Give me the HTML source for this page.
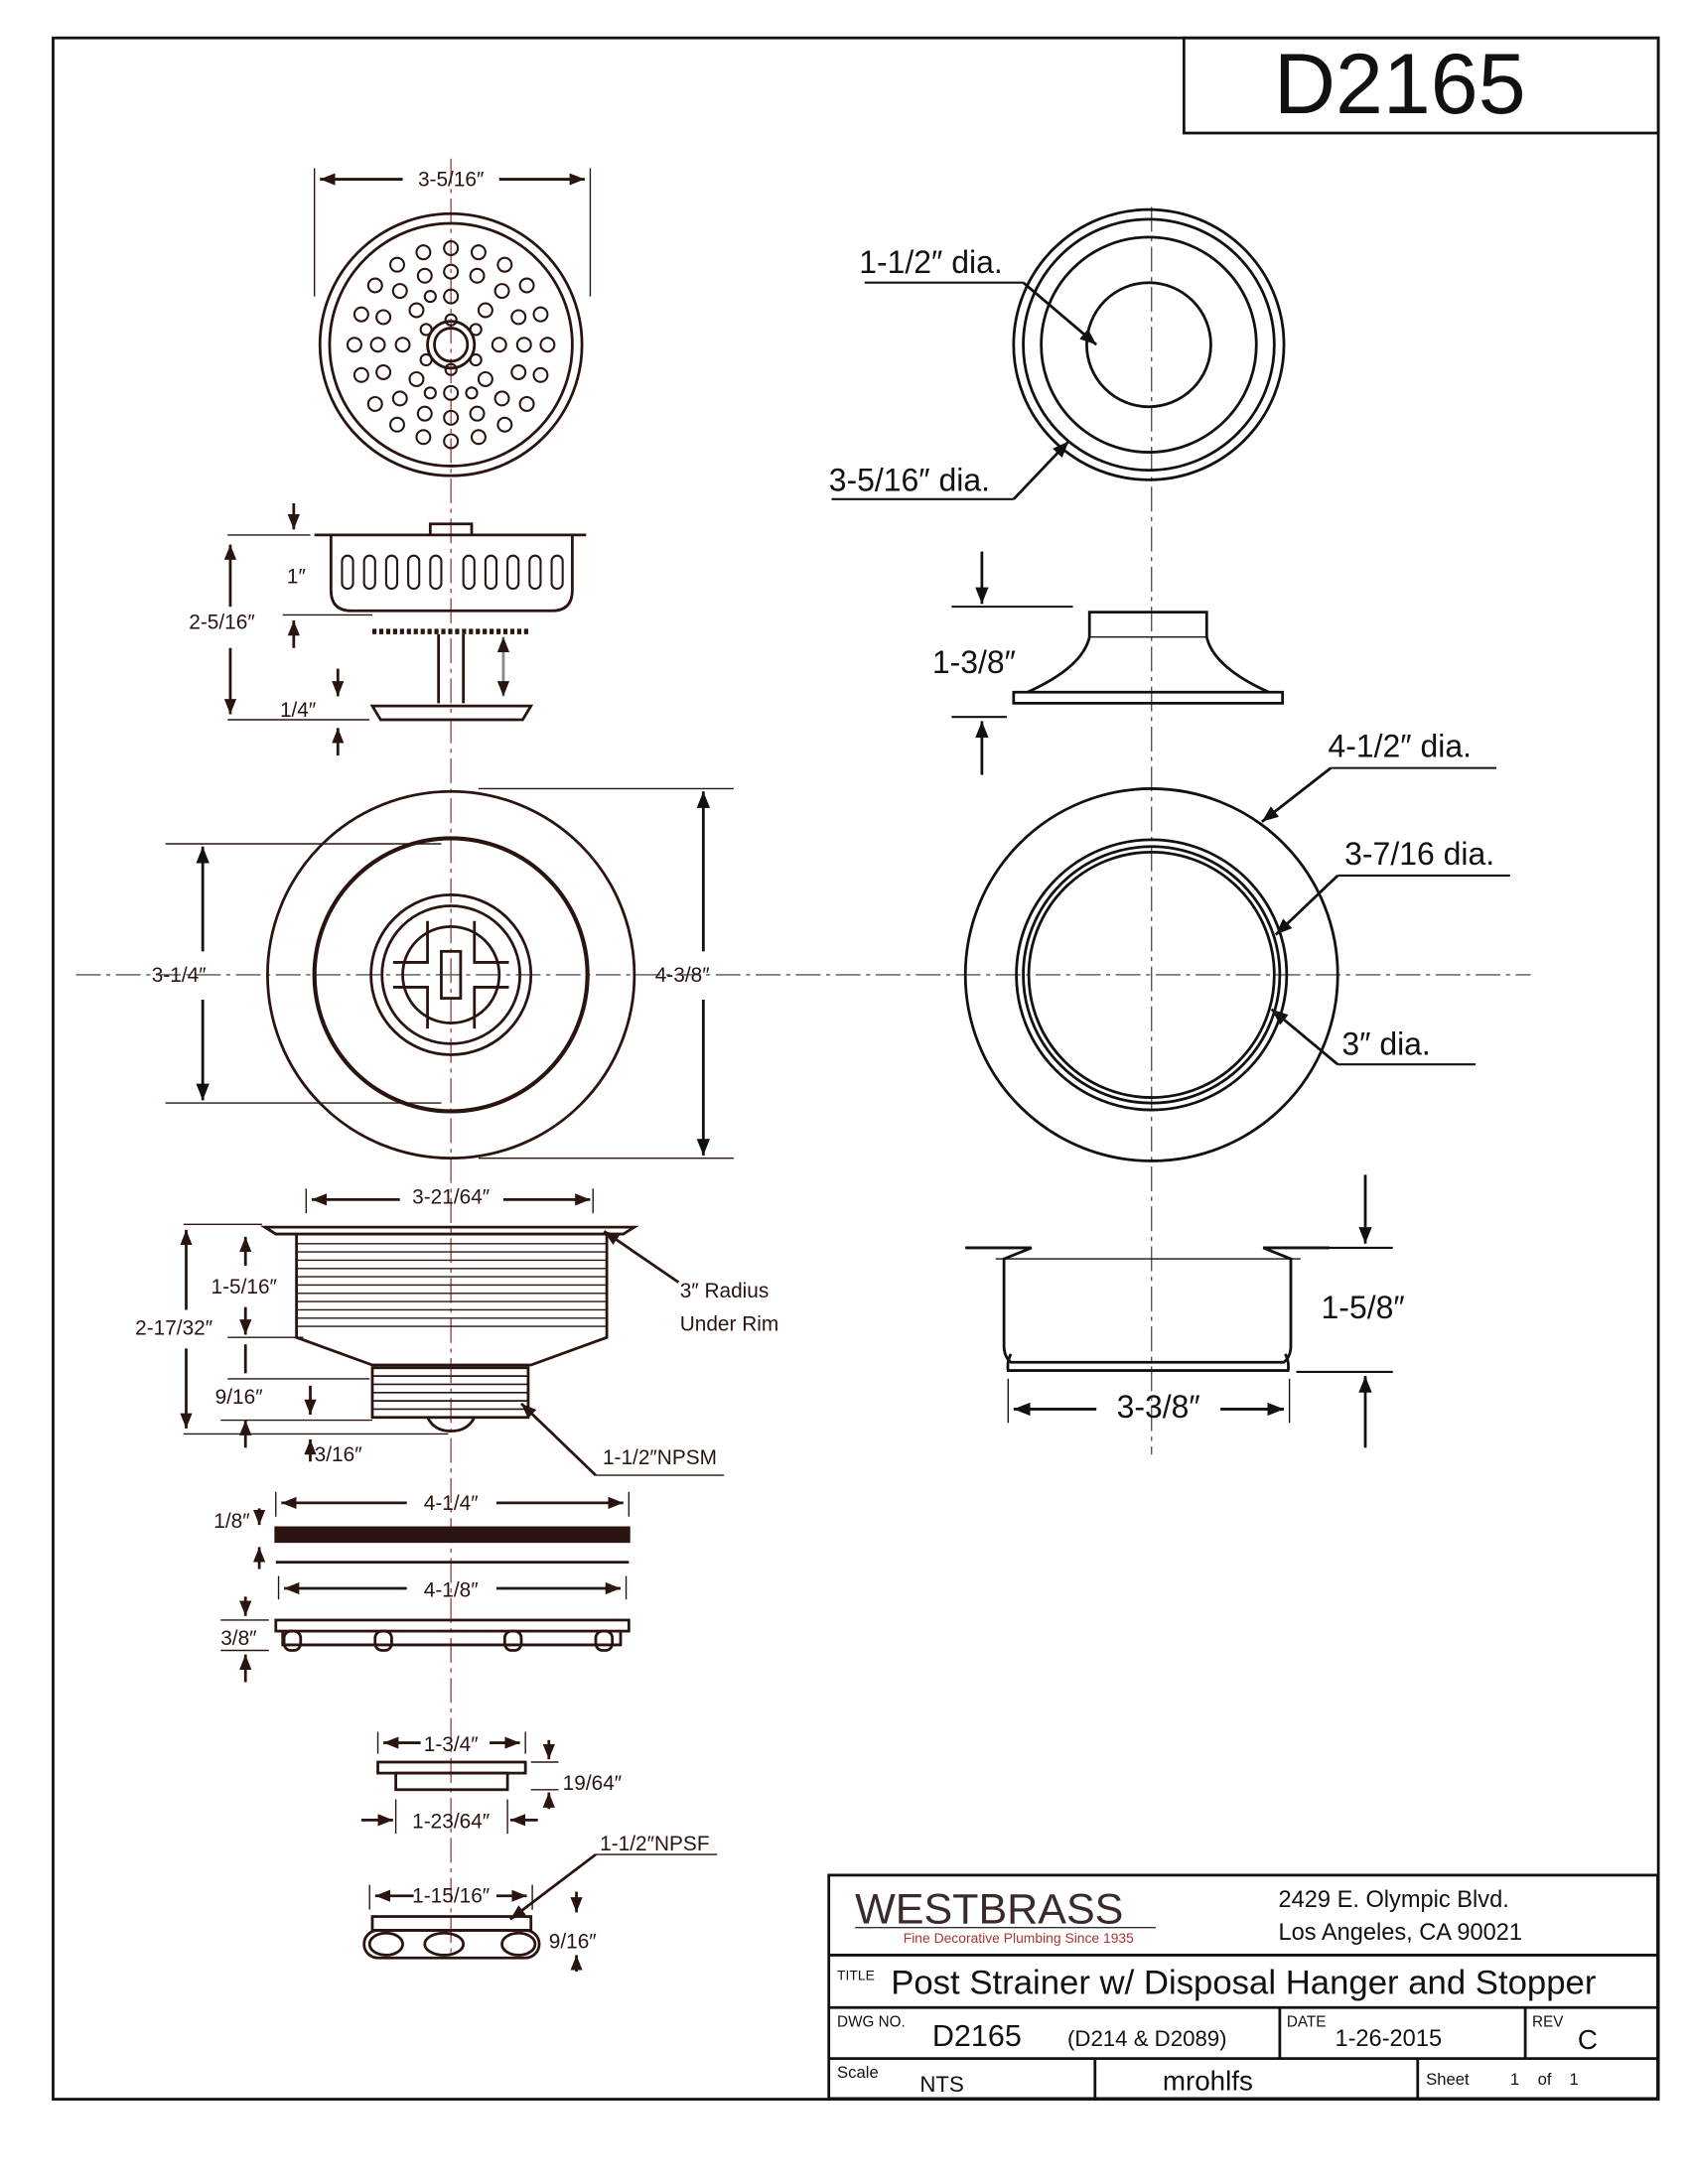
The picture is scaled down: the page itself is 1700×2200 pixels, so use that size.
<!DOCTYPE html>
<html><head><meta charset="utf-8"><style>
html,body{margin:0;padding:0;background:#fff}
svg{display:block}
text{font-family:"Liberation Sans",sans-serif}
</style></head><body>
<svg width="1700" height="2200" viewBox="0 0 1224 1584" xmlns="http://www.w3.org/2000/svg">
<defs>
<marker id="a" viewBox="0 0 10 10" refX="10" refY="5" markerWidth="6" markerHeight="6" orient="auto-start-reverse"><path d="M0,1 L10,5 L0,9 z" fill="#111"/></marker>
<marker id="r" viewBox="0 0 10 10" refX="10" refY="5" markerWidth="5.5" markerHeight="5.5" orient="auto-start-reverse"><path d="M0,1 L10,5 L0,9 z" fill="#2a1410"/></marker>
</defs>
<rect width="1224" height="1584" fill="#fff"/>
<rect x="38.5" y="27.5" width="1164" height="1495" fill="none" stroke="#111" stroke-width="2"/>
<rect x="858.5" y="27.5" width="344" height="69" fill="none" stroke="#111" stroke-width="2"/>
<text x="1015" y="82" font-size="62" text-anchor="middle" fill="#111">D2165</text>

<g stroke="#a44" stroke-width="1" stroke-dasharray="18,4,3,4" fill="none">
<line x1="327" y1="115" x2="327" y2="1420"/>
<line x1="55" y1="707" x2="1110" y2="707" stroke="#555"/>
</g>
<line x1="835" y1="150" x2="835" y2="1055" stroke="#555" stroke-dasharray="18,4,3,4"/>

<g fill="none" stroke="#2a1410" stroke-width="2">
<line x1="228" y1="122" x2="228" y2="215" stroke-width="1"/><line x1="428" y1="122" x2="428" y2="215" stroke-width="1"/>
<line x1="232" y1="130" x2="292" y2="130" marker-start="url(#r)"/><line x1="362" y1="130" x2="424" y2="130" marker-end="url(#r)"/>
<circle cx="327" cy="250" r="95"/><circle cx="327" cy="250" r="88"/>
<circle cx="327" cy="250" r="17"/><circle cx="327" cy="250" r="12"/>
<g stroke-width="1.5">
<circle cx="327" cy="215" r="5"/><circle cx="327" cy="285" r="5"/><circle cx="292" cy="250" r="5"/><circle cx="362" cy="250" r="5"/>
<circle cx="302" cy="225" r="5"/><circle cx="352" cy="225" r="5"/><circle cx="302" cy="275" r="5"/><circle cx="352" cy="275" r="5"/>
<circle cx="327" cy="197" r="5"/><circle cx="327" cy="303" r="5"/><circle cx="274" cy="250" r="5"/><circle cx="380" cy="250" r="5"/>
<circle cx="308" cy="200" r="5"/><circle cx="346" cy="200" r="5"/><circle cx="308" cy="300" r="5"/><circle cx="346" cy="300" r="5"/>
<circle cx="290" cy="211" r="5"/><circle cx="364" cy="211" r="5"/><circle cx="290" cy="289" r="5"/><circle cx="364" cy="289" r="5"/>
<circle cx="278" cy="230" r="5"/><circle cx="376" cy="230" r="5"/><circle cx="278" cy="270" r="5"/><circle cx="376" cy="270" r="5"/>
<circle cx="327" cy="180" r="5"/><circle cx="327" cy="320" r="5"/><circle cx="257" cy="250" r="5"/><circle cx="397" cy="250" r="5"/>
<circle cx="307" cy="183" r="5"/><circle cx="347" cy="183" r="5"/><circle cx="307" cy="317" r="5"/><circle cx="347" cy="317" r="5"/>
<circle cx="288" cy="192" r="5"/><circle cx="366" cy="192" r="5"/><circle cx="288" cy="308" r="5"/><circle cx="366" cy="308" r="5"/>
<circle cx="272" cy="207" r="5"/><circle cx="382" cy="207" r="5"/><circle cx="272" cy="293" r="5"/><circle cx="382" cy="293" r="5"/>
<circle cx="262" cy="228" r="5"/><circle cx="392" cy="228" r="5"/><circle cx="262" cy="272" r="5"/><circle cx="392" cy="272" r="5"/>
<circle cx="309" cy="239" r="4"/><circle cx="345" cy="239" r="4"/><circle cx="309" cy="261" r="4"/><circle cx="345" cy="261" r="4"/>
<circle cx="327" cy="232" r="4"/><circle cx="327" cy="268" r="4"/><circle cx="312" cy="215" r="4"/><circle cx="342" cy="285" r="4"/><circle cx="312" cy="285" r="4"/>
</g>

<line x1="228" y1="388" x2="425" y2="388"/>
<path d="M312,388 v-8 h30 v8"/>
<path d="M240,388 v40 q0,15 15,15 h145 q15,0 15,-15 v-40"/>
<g stroke-width="1.5">
<rect x="248" y="403" width="8" height="24" rx="4"/><rect x="264" y="403" width="8" height="24" rx="4"/><rect x="280" y="403" width="8" height="24" rx="4"/><rect x="296" y="403" width="8" height="24" rx="4"/><rect x="312" y="403" width="8" height="24" rx="4"/><rect x="336" y="403" width="8" height="24" rx="4"/><rect x="352" y="403" width="8" height="24" rx="4"/><rect x="368" y="403" width="8" height="24" rx="4"/><rect x="384" y="403" width="8" height="24" rx="4"/><rect x="400" y="403" width="8" height="24" rx="4"/>
</g>
<line x1="270" y1="458" x2="385" y2="458" stroke-dasharray="3,2" stroke-width="4"/>
<line x1="318" y1="460" x2="318" y2="510"/><line x1="336" y1="460" x2="336" y2="510"/>
<path d="M270,512 h115 l-6,10 h-103 z"/>
<line x1="365" y1="462" x2="365" y2="505" stroke="#888" marker-start="url(#r)" marker-end="url(#r)"/>
<line x1="165" y1="388" x2="225" y2="388" stroke-width="1"/><line x1="165" y1="522" x2="268" y2="522" stroke-width="1"/>
<line x1="167" y1="395" x2="167" y2="440" marker-start="url(#r)"/><line x1="167" y1="470" x2="167" y2="518" marker-end="url(#r)"/>
<line x1="213" y1="365" x2="213" y2="384" marker-end="url(#r)"/><line x1="213" y1="470" x2="213" y2="450" marker-end="url(#r)"/>
<line x1="205" y1="446" x2="270" y2="446" stroke-width="1"/>
<line x1="245" y1="485" x2="245" y2="505" marker-end="url(#r)"/><line x1="245" y1="548" x2="245" y2="528" marker-end="url(#r)"/>

<circle cx="327" cy="707" r="133"/><circle cx="327" cy="707" r="99" stroke-width="3"/>
<circle cx="327" cy="707" r="58"/><circle cx="327" cy="707" r="50"/><circle cx="327" cy="707" r="35"/>
<rect x="320" y="690" width="14" height="34"/>
<path d="M285,698 h25 v-30 M344,668 v30 h25 M285,716 h25 v30 M344,746 v-30 h25"/>
<line x1="120" y1="612" x2="320" y2="612" stroke-width="1"/><line x1="120" y1="800" x2="320" y2="800" stroke-width="1"/>
<line x1="347" y1="572" x2="532" y2="572" stroke-width="1"/><line x1="347" y1="840" x2="532" y2="840" stroke-width="1"/>
<line x1="147" y1="690" x2="147" y2="614" marker-end="url(#a)" stroke="#111"/><line x1="147" y1="725" x2="147" y2="798" marker-end="url(#a)" stroke="#111"/>
<line x1="510" y1="690" x2="510" y2="574" marker-end="url(#a)" stroke="#111"/><line x1="510" y1="725" x2="510" y2="838" marker-end="url(#a)" stroke="#111"/>

<line x1="222" y1="862" x2="222" y2="880" stroke-width="1"/><line x1="430" y1="862" x2="430" y2="880" stroke-width="1"/>
<line x1="226" y1="870" x2="290" y2="870" marker-start="url(#r)"/><line x1="365" y1="870" x2="428" y2="870" marker-end="url(#r)"/>
<path d="M192,890 h268 l-8,5 h-252 z"/>
<path d="M215,895 v75 l55,20 h115 l55,-20 v-75"/>
<g stroke-width="1">
<line x1="215" y1="902" x2="440" y2="902"/><line x1="215" y1="908" x2="440" y2="908"/><line x1="215" y1="914" x2="440" y2="914"/><line x1="215" y1="920" x2="440" y2="920"/><line x1="215" y1="926" x2="440" y2="926"/><line x1="215" y1="932" x2="440" y2="932"/><line x1="215" y1="938" x2="440" y2="938"/><line x1="215" y1="944" x2="440" y2="944"/><line x1="215" y1="950" x2="440" y2="950"/><line x1="215" y1="956" x2="440" y2="956"/><line x1="215" y1="962" x2="440" y2="962"/>
</g>
<rect x="270" y="992" width="113" height="36"/>
<g stroke-width="1.2"><line x1="270" y1="998" x2="383" y2="998"/><line x1="270" y1="1004" x2="383" y2="1004"/><line x1="270" y1="1010" x2="383" y2="1010"/><line x1="270" y1="1016" x2="383" y2="1016"/><line x1="270" y1="1022" x2="383" y2="1022"/></g>
<path d="M310,1028 q5,10 17,10 q12,0 17,-10"/>
<line x1="133" y1="888" x2="190" y2="888" stroke-width="1"/><line x1="133" y1="1040" x2="325" y2="1040" stroke-width="1"/>
<line x1="135" y1="892" x2="135" y2="950" marker-start="url(#r)"/><line x1="135" y1="978" x2="135" y2="1036" marker-end="url(#r)"/>
<line x1="178" y1="897" x2="178" y2="918" marker-start="url(#r)"/><line x1="178" y1="948" x2="178" y2="968" marker-end="url(#r)"/>
<line x1="165" y1="970" x2="220" y2="970" stroke-width="1"/><line x1="165" y1="1000" x2="268" y2="1000" stroke-width="1"/>
<line x1="178" y1="975" x2="178" y2="996"/><line x1="225" y1="1005" x2="225" y2="1026" marker-end="url(#r)"/>
<line x1="178" y1="1050" x2="178" y2="1030" marker-end="url(#r)"/><line x1="225" y1="1060" x2="225" y2="1044" marker-end="url(#r)"/>
<line x1="160" y1="1030" x2="270" y2="1030" stroke-width="1"/>
<line x1="492" y1="930" x2="438" y2="893" marker-end="url(#r)"/>
<path d="M432,1070 L378,1018" marker-end="url(#r)"/><line x1="432" y1="1070" x2="525" y2="1070" stroke-width="1"/>

<line x1="200" y1="1082" x2="200" y2="1100" stroke-width="1"/><line x1="456" y1="1082" x2="456" y2="1100" stroke-width="1"/>
<line x1="204" y1="1090" x2="295" y2="1090" marker-start="url(#r)"/><line x1="360" y1="1090" x2="452" y2="1090" marker-end="url(#r)"/>
<rect x="200" y="1108" width="256" height="10" fill="#2a1410"/>
<line x1="200" y1="1133" x2="456" y2="1133"/>
<line x1="188" y1="1094" x2="188" y2="1106" marker-end="url(#r)"/><line x1="188" y1="1138" x2="188" y2="1122" marker-end="url(#r)"/>
<line x1="202" y1="1143" x2="202" y2="1160" stroke-width="1"/><line x1="454" y1="1143" x2="454" y2="1160" stroke-width="1"/>
<line x1="206" y1="1152" x2="295" y2="1152" marker-start="url(#r)"/><line x1="360" y1="1152" x2="450" y2="1152" marker-end="url(#r)"/>
<rect x="200" y="1175" width="256" height="8"/><path d="M205,1183 v10 h245 v-10"/>
<rect x="206" y="1183" width="12" height="14" rx="5"/><rect x="272" y="1183" width="12" height="14" rx="5"/><rect x="366" y="1183" width="12" height="14" rx="5"/><rect x="432" y="1183" width="12" height="14" rx="5"/>
<line x1="160" y1="1175" x2="195" y2="1175" stroke-width="1"/><line x1="160" y1="1197" x2="195" y2="1197" stroke-width="1"/>
<line x1="178" y1="1158" x2="178" y2="1172" marker-end="url(#r)"/><line x1="178" y1="1220" x2="178" y2="1200" marker-end="url(#r)"/>

<line x1="274" y1="1256" x2="274" y2="1272" stroke-width="1"/><line x1="381" y1="1256" x2="381" y2="1272" stroke-width="1"/>
<line x1="278" y1="1264" x2="305" y2="1264" marker-start="url(#r)"/><line x1="355" y1="1264" x2="377" y2="1264" marker-end="url(#r)"/>
<rect x="274" y="1278" width="107" height="8"/><rect x="287" y="1286" width="81" height="12"/>
<line x1="398" y1="1262" x2="398" y2="1276" marker-end="url(#r)"/><line x1="398" y1="1312" x2="398" y2="1300" marker-end="url(#r)"/>
<line x1="385" y1="1278" x2="405" y2="1278" stroke-width="1"/><line x1="385" y1="1298" x2="405" y2="1298" stroke-width="1"/>
<line x1="262" y1="1320" x2="285" y2="1320" marker-end="url(#r)"/><line x1="390" y1="1320" x2="370" y2="1320" marker-end="url(#r)"/>
<line x1="287" y1="1305" x2="287" y2="1330" stroke-width="1"/><line x1="368" y1="1305" x2="368" y2="1330" stroke-width="1"/>
<line x1="268" y1="1367" x2="268" y2="1385" stroke-width="1"/><line x1="386" y1="1367" x2="386" y2="1385" stroke-width="1"/>
<line x1="272" y1="1375" x2="300" y2="1375" marker-start="url(#r)"/><line x1="360" y1="1375" x2="382" y2="1375" marker-end="url(#r)"/>
<rect x="270" y="1390" width="115" height="10"/>
<rect x="264" y="1400" width="127" height="20" rx="10"/>
<ellipse cx="322" cy="1410" rx="14" ry="8"/><ellipse cx="280" cy="1410" rx="12" ry="8"/><ellipse cx="376" cy="1410" rx="12" ry="8"/>
<line x1="418" y1="1372" x2="418" y2="1387" marker-end="url(#r)"/><line x1="418" y1="1430" x2="418" y2="1418" marker-end="url(#r)"/>
<line x1="432" y1="1345" x2="370" y2="1392" marker-end="url(#r)"/><line x1="432" y1="1345" x2="520" y2="1345" stroke-width="1"/>
</g>

<g fill="#2a1410" font-size="15">
<text x="327" y="135" text-anchor="middle">3-5/16″</text>
<text x="208" y="423">1″</text>
<text x="137" y="456">2-5/16″</text>
<text x="203" y="520">1/4″</text>
<text x="110" y="712">3-1/4″</text>
<text x="475" y="712">4-3/8″</text>
<text x="327" y="873" text-anchor="middle">3-21/64″</text>
<text x="153" y="938">1-5/16″</text>
<text x="98" y="968">2-17/32″</text>
<text x="156" y="1018">9/16″</text>
<text x="228" y="1060">3/16″</text>
<text x="493" y="941">3″ Radius</text>
<text x="493" y="965">Under Rim</text>
<text x="437" y="1062">1-1/2″NPSM</text>
<text x="327" y="1095" text-anchor="middle">4-1/4″</text>
<text x="155" y="1108">1/8″</text>
<text x="327" y="1158" text-anchor="middle">4-1/8″</text>
<text x="160" y="1193">3/8″</text>
<text x="327" y="1270" text-anchor="middle">1-3/4″</text>
<text x="408" y="1298">19/64″</text>
<text x="327" y="1326" text-anchor="middle">1-23/64″</text>
<text x="435" y="1342">1-1/2″NPSF</text>
<text x="327" y="1380" text-anchor="middle">1-15/16″</text>
<text x="398" y="1413">9/16″</text>
</g>

<g fill="none" stroke="#111" stroke-width="2">
<circle cx="833" cy="250" r="98"/><circle cx="833" cy="250" r="91"/><circle cx="833" cy="250" r="78"/><circle cx="833" cy="250" r="45"/>
<line x1="627" y1="205" x2="742" y2="205" stroke-width="1.5"/><line x1="742" y1="205" x2="795" y2="250" marker-end="url(#a)"/>
<line x1="603" y1="362" x2="735" y2="362" stroke-width="1.5"/><line x1="735" y1="362" x2="775" y2="320" marker-end="url(#a)"/>
<path d="M735,510 h195 v-8 h-195 z"/>
<path d="M745,502 q40,-18 45,-40 v-18 h85 v18 q5,22 45,40"/>
<line x1="790" y1="462" x2="875" y2="462" stroke-width="1"/>
<line x1="690" y1="440" x2="778" y2="440" stroke-width="1.5"/><line x1="690" y1="520" x2="730" y2="520" stroke-width="1.5"/>
<line x1="712" y1="400" x2="712" y2="438" marker-end="url(#a)"/><line x1="712" y1="562" x2="712" y2="523" marker-end="url(#a)"/>
<circle cx="835" cy="707" r="135"/><circle cx="835" cy="707" r="98"/><circle cx="835" cy="707" r="93"/><circle cx="835" cy="707" r="89"/>
<line x1="965" y1="557" x2="1085" y2="557" stroke-width="1.5"/><line x1="965" y1="557" x2="915" y2="596" marker-end="url(#a)"/>
<line x1="970" y1="635" x2="1095" y2="635" stroke-width="1.5"/><line x1="970" y1="635" x2="925" y2="678" marker-end="url(#a)"/>
<line x1="970" y1="772" x2="1070" y2="772" stroke-width="1.5"/><line x1="970" y1="772" x2="922" y2="732" marker-end="url(#a)"/>
<path d="M700,905 h48 l-20,8 v63 q0,8 5,12 h198 q5,-4 5,-12 v-63 l-20,-8 h48"/>
<line x1="722" y1="913" x2="943" y2="913" stroke-width="1"/>
<path d="M733,982 q-3,6 -2,12 h203 q1,-6 -2,-12"/>
<line x1="948" y1="905" x2="1010" y2="905" stroke-width="1.5"/><line x1="940" y1="995" x2="1010" y2="995" stroke-width="1.5"/>
<line x1="990" y1="852" x2="990" y2="902" marker-end="url(#a)"/><line x1="990" y1="1050" x2="990" y2="998" marker-end="url(#a)"/>
<line x1="731" y1="1000" x2="731" y2="1032" stroke-width="1"/><line x1="935" y1="1000" x2="935" y2="1032" stroke-width="1"/>
<line x1="795" y1="1022" x2="735" y2="1022" marker-end="url(#a)"/><line x1="885" y1="1022" x2="931" y2="1022" marker-end="url(#a)"/>
</g>
<g fill="#111" font-size="23">
<text x="623" y="198">1-1/2″ dia.</text>
<text x="601" y="356">3-5/16″ dia.</text>
<text x="676" y="488">1-3/8″</text>
<text x="963" y="549">4-1/2″ dia.</text>
<text x="975" y="627">3-7/16 dia.</text>
<text x="973" y="765">3″ dia.</text>
<text x="958" y="956">1-5/8″</text>
<text x="840" y="1028" text-anchor="middle">3-3/8″</text>
</g>

<g fill="none" stroke="#111" stroke-width="2">
<rect x="601" y="1360" width="601" height="162"/>
<line x1="601" y1="1418" x2="1202" y2="1418"/>
<line x1="601" y1="1456" x2="1202" y2="1456"/>
<line x1="601" y1="1493" x2="1202" y2="1493"/>
<line x1="928" y1="1456" x2="928" y2="1493"/>
<line x1="1106" y1="1456" x2="1106" y2="1493"/>
<line x1="794" y1="1493" x2="794" y2="1522"/>
<line x1="1028" y1="1493" x2="1028" y2="1522"/>
</g>
<g fill="#111">
<text x="620" y="1395" font-family="Liberation Serif" font-size="31" fill="#3a2a2a">WESTBRASS</text>
<line x1="620" y1="1398" x2="838" y2="1398" stroke="#333" stroke-width="1"/>
<text x="655" y="1409" font-size="10" fill="#a33">Fine Decorative Plumbing Since 1935</text>
<text x="927" y="1383" font-size="17">2429 E. Olympic Blvd.</text>
<text x="927" y="1407" font-size="17">Los Angeles, CA 90021</text>
<text x="607" y="1436" font-size="10">TITLE</text>
<text x="646" y="1446" font-size="25">Post Strainer w/ Disposal Hanger and Stopper</text>
<text x="607" y="1470" font-size="11">DWG NO.</text>
<text x="676" y="1484" font-size="22">D2165</text>
<text x="774" y="1484" font-size="16">(D214 &amp; D2089)</text>
<text x="933" y="1470" font-size="11">DATE</text>
<text x="968" y="1484" font-size="17">1-26-2015</text>
<text x="1111" y="1470" font-size="11">REV</text>
<text x="1144" y="1486" font-size="20">C</text>
<text x="607" y="1507" font-size="12">Scale</text>
<text x="667" y="1517" font-size="16">NTS</text>
<text x="843" y="1516" font-size="20">mrohlfs</text>
<text x="1034" y="1512" font-size="12">Sheet</text>
<text x="1095" y="1512" font-size="12">1</text>
<text x="1115" y="1512" font-size="12">of</text>
<text x="1138" y="1512" font-size="12">1</text>
</g>
</svg>
</body></html>
